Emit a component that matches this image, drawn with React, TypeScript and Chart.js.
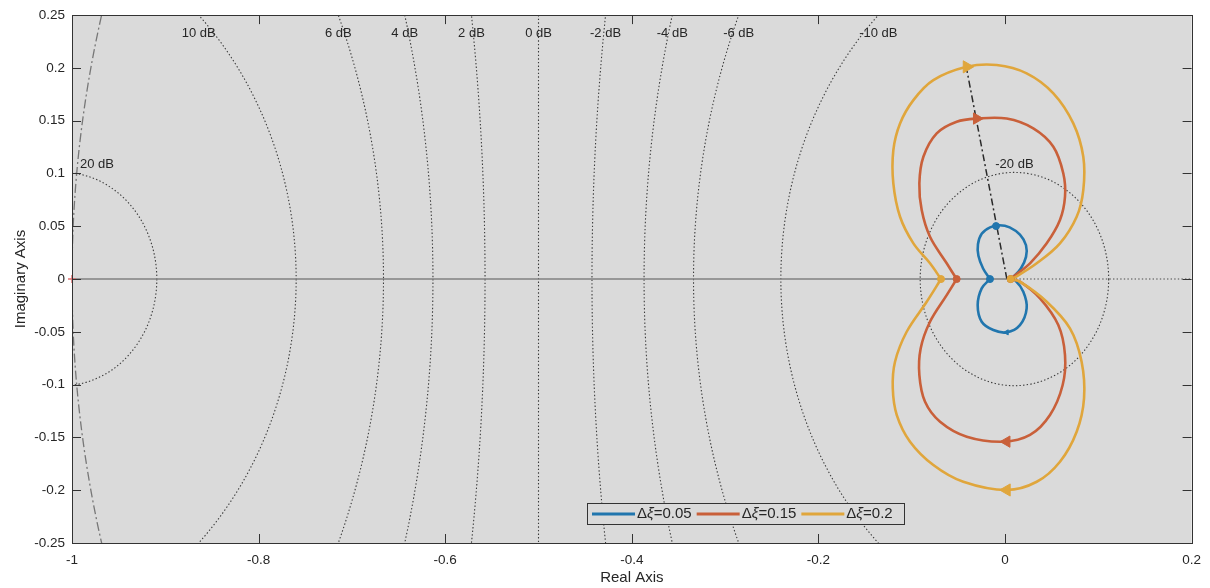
import React, { useEffect, useRef } from 'react';
import { Chart, registerables } from 'chart.js';

Chart.register(...registerables);

// ---- axis ticks & grid levels ----
const xTicks = [-1, -0.8, -0.6, -0.4, -0.2, 0, 0.2];
const yTicks = [-0.25, -0.2, -0.15, -0.1, -0.05, 0, 0.05, 0.1, 0.15, 0.2, 0.25];
const dbLevels = [20, 10, 6, 4, 2, 0, -2, -4, -6, -10, -20];

// ---- legend ----
const seriesLabels = ['Δξ=0.05', 'Δξ=0.15', 'Δξ=0.2'];
const seriesColors = ['#2176ae', '#c9603a', '#e0a63c'];

// ---- Δξ=0.05 (blue) ----
const blueUpX = [-0.0161, -0.0235, -0.0285, -0.029, -0.025, -0.016, -0.006, 0.005, 0.016, 0.0225, 0.0225, 0.017, 0.01, 0.0055];
const blueUpY = [0, 0.010, 0.022, 0.033, 0.043, 0.049, 0.051, 0.049, 0.042, 0.032, 0.021, 0.010, 0.003, 0];
const blueLoX = [-0.0161, -0.025, -0.0293, -0.025, -0.0125, 0.0018, 0.016, 0.0232, 0.0196, 0.0107, 0.0055];
const blueLoY = [0, -0.0088, -0.0246, -0.0404, -0.0483, -0.0505, -0.0436, -0.0277, -0.012, -0.001, 0];

// ---- Δξ=0.15 (orange) ----
const orangeUpX = [-0.0518, -0.0625, -0.0804, -0.0893, -0.0918, -0.0875, -0.0732, -0.0518, -0.0303, 0.0018, 0.0303, 0.0518, 0.0625, 0.0643, 0.0589, 0.0447, 0.0268, 0.0089, 0.006];
const orangeUpY = [0, 0.0149, 0.040, 0.0653, 0.0906, 0.1158, 0.138, 0.149, 0.152, 0.152, 0.1427, 0.1253, 0.100, 0.078, 0.0559, 0.0338, 0.0149, 0.0022, 0];
const orangeLoX = [-0.0518, -0.0625, -0.0804, -0.0904, -0.0918, -0.0857, -0.0696, -0.041, -0.0018, 0.0268, 0.0482, 0.0618, 0.0643, 0.0571, 0.0375, 0.016, 0.006];
const orangeLoY = [0, -0.0152, -0.0404, -0.0657, -0.0909, -0.1162, -0.1351, -0.1493, -0.154, -0.1477, -0.1288, -0.1004, -0.072, -0.0436, -0.0183, -0.0025, 0];

// ---- Δξ=0.2 (yellow) ----
const yellowUpX = [-0.0686, -0.0804, -0.0982, -0.1125, -0.1197, -0.1197, -0.1125, -0.0982, -0.0768, -0.041, -0.0089, 0.0232, 0.0518, 0.0732, 0.0839, 0.0839, 0.0768, 0.0589, 0.034, 0.0089, 0.006];
const yellowUpY = [0, 0.0149, 0.0338, 0.059, 0.0906, 0.122, 0.1474, 0.1695, 0.1884, 0.201, 0.2027, 0.1948, 0.1759, 0.1474, 0.1158, 0.0843, 0.059, 0.0338, 0.0149, 0.0007, 0];
const yellowLoX = [-0.0686, -0.0839, -0.1054, -0.1179, -0.1203, -0.116, -0.1018, -0.0768, -0.0447, 0.0018, 0.034, 0.0589, 0.0768, 0.0847, 0.0821, 0.0696, 0.0447, 0.016, 0.006];
const yellowLoY = [0, -0.0215, -0.0499, -0.0783, -0.1035, -0.1288, -0.154, -0.1761, -0.192, -0.1998, -0.192, -0.173, -0.1446, -0.113, -0.0783, -0.0467, -0.0215, -0.0025, 0];

// ---- markers (dots & direction arrows) ----
const blueMarkX = [-0.0161, -0.0096, 0.0055, 0.0018];
const blueMarkY = [0, 0.0502, 0, -0.0505];
const orangeMarkX = [-0.0518, 0.006, -0.0303, 0.0018];
const orangeMarkY = [0, 0, 0.152, -0.154];
const yellowMarkX = [-0.0686, 0.006, -0.041, 0.0018];
const yellowMarkY = [0, 0, 0.201, -0.1998];

// ---- reference lines ----
const peakLineX = [0.002, -0.042];
const peakLineY = [0, 0.203];
const realAxisSolidX = [-1, 0];
const realAxisDottedX = [0, 0.2];

const FONT = 'Liberation Sans, Arial, Helvetica, sans-serif';
const TEXT = '#262626';
const PLOT_BG = '#dadada';

const pts = (xs: number[], ys: number[]) => xs.map((x, i) => ({ x, y: ys[i] }));

const bgPlugin = {
  id: 'plotBg',
  beforeDraw(chart: any) {
    const { ctx, chartArea: a } = chart;
    ctx.save();
    ctx.fillStyle = PLOT_BG;
    ctx.fillRect(a.left, a.top, a.right - a.left, a.bottom - a.top);
    ctx.restore();
  },
};

const gridPlugin = {
  id: 'mCircles',
  beforeDatasetsDraw(chart: any) {
    const { ctx, chartArea: a, scales } = chart;
    const xs = scales.x, ys = scales.y;
    const sx = xs.getPixelForValue(1) - xs.getPixelForValue(0);
    const sy = ys.getPixelForValue(0) - ys.getPixelForValue(1);
    const y0 = ys.getPixelForValue(0);
    ctx.save();
    ctx.beginPath();
    ctx.rect(a.left, a.top, a.right - a.left, a.bottom - a.top);
    ctx.clip();
    ctx.strokeStyle = '#3a3a3a';
    ctx.lineWidth = 1.1;
    ctx.setLineDash([1.4, 2.2]);
    dbLevels.forEach((db) => {
      const M = Math.pow(10, db / 20);
      ctx.beginPath();
      if (db === 0) {
        const px = xs.getPixelForValue(-0.5);
        ctx.moveTo(px, a.top);
        ctx.lineTo(px, a.bottom);
      } else {
        const c = -(M * M) / (M * M - 1);
        const r = Math.abs(M / (M * M - 1));
        ctx.ellipse(xs.getPixelForValue(c), y0, r * sx, r * sy, 0, 0, Math.PI * 2);
      }
      ctx.stroke();
    });
    // unit circle
    ctx.strokeStyle = '#777777';
    ctx.lineWidth = 1.3;
    ctx.setLineDash([9, 3, 2, 3]);
    ctx.beginPath();
    ctx.ellipse(xs.getPixelForValue(0), y0, sx, sy, 0, 0, Math.PI * 2);
    ctx.stroke();
    ctx.restore();

    // labels
    ctx.save();
    ctx.font = `13px ${FONT}`;
    ctx.fillStyle = TEXT;
    ctx.textAlign = 'center';
    ctx.textBaseline = 'middle';
    const ymax = ys.max;
    dbLevels.forEach((db) => {
      const label = `${db} dB`;
      const w = ctx.measureText(label).width;
      const M = Math.pow(10, db / 20);
      let px: number, py: number;
      if (db === 0) {
        px = xs.getPixelForValue(-0.5);
        py = a.top + 18;
      } else {
        const c = -(M * M) / (M * M - 1);
        const r = Math.abs(M / (M * M - 1));
        if (r < ymax) {
          px = xs.getPixelForValue(c);
          py = ys.getPixelForValue(r) - 8;
        } else {
          const d = Math.sqrt(r * r - ymax * ymax);
          px = xs.getPixelForValue(db > 0 ? c + d : c - d);
          py = a.top + 18;
        }
      }
      if (px - w / 2 < a.left + 8) px = a.left + 8 + w / 2;
      ctx.fillText(label, px, py);
    });
    ctx.restore();
  },
};

const framePlugin = {
  id: 'frame',
  afterDatasetsDraw(chart: any) {
    const { ctx, chartArea: a, scales } = chart;
    ctx.save();
    ctx.strokeStyle = '#333333';
    ctx.lineWidth = 1;
    ctx.setLineDash([]);
    ctx.strokeRect(Math.round(a.left) + 0.5, Math.round(a.top) + 0.5, Math.round(a.right - a.left), Math.round(a.bottom - a.top));
    const tl = 9;
    ctx.beginPath();
    xTicks.forEach((v) => {
      const px = Math.round(scales.x.getPixelForValue(v)) + 0.5;
      ctx.moveTo(px, a.bottom);
      ctx.lineTo(px, a.bottom - tl);
      ctx.moveTo(px, a.top);
      ctx.lineTo(px, a.top + tl);
    });
    yTicks.forEach((v) => {
      const py = Math.round(scales.y.getPixelForValue(v)) + 0.5;
      ctx.moveTo(a.left, py);
      ctx.lineTo(a.left + tl, py);
      ctx.moveTo(a.right, py);
      ctx.lineTo(a.right - tl, py);
    });
    ctx.stroke();
    ctx.restore();
  },
};

const legendPlugin = {
  id: 'boxLegend',
  afterDraw(chart: any) {
    const { ctx, chartArea: a } = chart;
    const left = a.left + 515;
    const top = a.top + 488;
    const w = 317;
    const h = 21;
    ctx.save();
    ctx.fillStyle = PLOT_BG;
    ctx.fillRect(left, top, w, h);
    ctx.strokeStyle = '#333333';
    ctx.lineWidth = 1;
    ctx.strokeRect(Math.round(left) + 0.5, Math.round(top) + 0.5, w, h);
    const cy = top + h / 2 + 0.5;
    let x = left + 5;
    const normal = `15px ${FONT}`;
    const italic = `italic 15px ${FONT}`;
    ctx.textBaseline = 'middle';
    ctx.textAlign = 'left';
    seriesLabels.forEach((lab, i) => {
      ctx.strokeStyle = seriesColors[i];
      ctx.lineWidth = 3;
      ctx.beginPath();
      ctx.moveTo(x, cy);
      ctx.lineTo(x + 43, cy);
      ctx.stroke();
      x += 45;
      const parts = lab.split('ξ');
      ctx.fillStyle = TEXT;
      ctx.font = normal;
      ctx.fillText(parts[0], x, cy);
      x += ctx.measureText(parts[0]).width;
      ctx.font = italic;
      ctx.fillText('ξ', x, cy);
      x += ctx.measureText('ξ').width;
      ctx.font = normal;
      ctx.fillText(parts[1], x, cy);
      x += ctx.measureText(parts[1]).width + 5;
    });
    ctx.restore();
  },
};

const curve = (xs: number[], ys: number[], color: string) => ({
  type: 'line',
  data: pts(xs, ys),
  borderColor: color,
  borderWidth: 2.6,
  pointRadius: 0,
  tension: 0.35,
  fill: false,
});

const markers = (xs: number[], ys: number[], color: string, arrowSize: number) => ({
  type: 'scatter',
  data: pts(xs, ys),
  backgroundColor: color,
  borderColor: color,
  borderWidth: 1,
  pointStyle: ['circle', 'circle', 'triangle', 'triangle'],
  pointRotation: [0, 0, 90, -90],
  pointRadius: [3.5, 3.5, arrowSize, arrowSize],
  showLine: false,
});

export default function App() {
  const ref = useRef<HTMLCanvasElement | null>(null);

  useEffect(() => {
    if (!ref.current) return;
    const [cBlue, cOrange, cYellow] = seriesColors;
    const blueMk: any = markers(blueMarkX, blueMarkY, cBlue, 4);
    blueMk.pointStyle = ['circle', 'circle', 'circle', 'triangle'];
    blueMk.pointRotation = [0, 0, 0, -90];
    blueMk.pointRadius = [3.5, 3.5, 3, 3];

    const chart = new Chart(ref.current, {
      type: 'scatter',
      data: {
        datasets: [
          {
            type: 'scatter',
            data: [{ x: -1, y: 0 }],
            pointStyle: 'cross',
            pointRadius: 4,
            borderColor: '#e07070',
            borderWidth: 1.5,
            clip: false,
          } as any,
          markers(yellowMarkX, yellowMarkY, cYellow, 7) as any,
          markers(orangeMarkX, orangeMarkY, cOrange, 6.5) as any,
          blueMk,
          {
            type: 'line',
            data: pts(peakLineX, peakLineY),
            borderColor: '#2a2a2a',
            borderWidth: 1.5,
            borderDash: [7, 3, 2, 3],
            pointRadius: 0,
          } as any,
          curve(yellowUpX, yellowUpY, cYellow) as any,
          curve(yellowLoX, yellowLoY, cYellow) as any,
          curve(orangeUpX, orangeUpY, cOrange) as any,
          curve(orangeLoX, orangeLoY, cOrange) as any,
          curve(blueUpX, blueUpY, cBlue) as any,
          curve(blueLoX, blueLoY, cBlue) as any,
          {
            type: 'line',
            data: realAxisDottedX.map((x) => ({ x, y: 0 })),
            borderColor: '#4a4a4a',
            borderWidth: 1.1,
            borderDash: [1.4, 2.2],
            pointRadius: 0,
          } as any,
          {
            type: 'line',
            data: realAxisSolidX.map((x) => ({ x, y: 0 })),
            borderColor: '#808080',
            borderWidth: 1.6,
            pointRadius: 0,
          } as any,
        ],
      },
      options: {
        animation: false,
        responsive: false,
        devicePixelRatio: 1,
        layout: { padding: { left: 0, top: 15, right: 18, bottom: 0 } },
        plugins: {
          legend: { display: false },
          tooltip: { enabled: false },
          title: { display: false },
        },
        scales: {
          x: {
            type: 'linear',
            position: 'bottom',
            min: -1,
            max: 0.2,
            afterBuildTicks: (s: any) => {
              s.ticks = xTicks.map((v) => ({ value: v }));
            },
            afterFit: (s: any) => {
              s.height = 45;
            },
            grid: { display: false, drawTicks: false },
            border: { display: false },
            ticks: {
              padding: 9,
              color: TEXT,
              font: { family: FONT, size: 13.5 },
              maxRotation: 0,
              autoSkip: false,
              callback: (v: any) => String(v),
            },
            title: {
              display: true,
              text: 'Real Axis',
              color: TEXT,
              font: { family: FONT, size: 15 },
              padding: { top: 0, bottom: 1 },
            },
          },
          y: {
            type: 'linear',
            position: 'left',
            min: -0.25,
            max: 0.25,
            afterBuildTicks: (s: any) => {
              s.ticks = yTicks.map((v) => ({ value: v }));
            },
            afterFit: (s: any) => {
              s.width = 72;
            },
            grid: { display: false, drawTicks: false },
            border: { display: false },
            ticks: {
              padding: 7,
              color: TEXT,
              font: { family: FONT, size: 13.5 },
              autoSkip: false,
              callback: (v: any) => String(v),
            },
            title: {
              display: true,
              text: 'Imaginary Axis',
              color: TEXT,
              font: { family: FONT, size: 15 },
              padding: { top: 12, bottom: 0 },
            },
          },
        },
      } as any,
      plugins: [bgPlugin, gridPlugin, framePlugin, legendPlugin],
    });
    return () => chart.destroy();
  }, []);

  return (
    <div style={{ position: 'absolute', left: 0, top: 0, width: 1210, height: 588, background: '#ffffff' }}>
      <canvas ref={ref} width={1210} height={588} style={{ display: 'block' }} />
    </div>
  );
}
